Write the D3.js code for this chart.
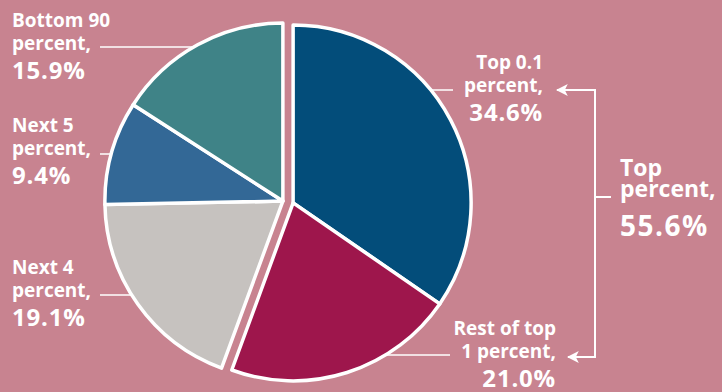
<!DOCTYPE html>
<html>
<head>
<meta charset="utf-8">
<script src="https://cdn.jsdelivr.net/npm/d3@7"></script>
<style>
  body { margin: 0; background: #c88390; }
  svg { display: block; }
  text { font-family: "Open Sans", sans-serif; font-weight: 700; fill: #fff; }
</style>
</head>
<body>
<svg width="722" height="392"></svg>
<script>
// shares of income, percent
var categories = ["Top 0.1 percent", "Rest of top 1 percent", "Next 4 percent", "Next 5 percent", "Bottom 90 percent"];
var shares = [34.6, 21.0, 19.1, 9.4, 15.9];
var lineOne = ["Top 0.1", "Rest of top", "Next 4", "Next 5", "Bottom 90"];
var lineTwo = ["percent,", "1 percent,", "percent,", "percent,", "percent,"];
var groupOf = [1, 1, 0, 0, 0]; // 1 = top 1 percent
var colors = ["#034d7a", "#9e164c", "#c6c2bf", "#336896", "#3f8387"];

var width = 722, height = 392;
var svg = d3.select("svg");
var fmt = d3.format(".1f");

var cx = 288, cy = 202, r = 178, explode = 5.2;

var data = categories.map(function(c, i) {
  return { name: c, value: shares[i], group: groupOf[i], color: colors[i], l1: lineOne[i], l2: lineTwo[i] };
});

var arcs = d3.pie().sort(null).value(function(d) { return d.value; })(data);

// each group (top 1 percent vs the rest) gets pulled apart along its own bisector
var groupAngles = [0, 1].map(function(g) {
  var a = arcs.filter(function(d) { return d.data.group === g; });
  var mid = (d3.min(a, function(d) { return d.startAngle; }) + d3.max(a, function(d) { return d.endAngle; })) / 2;
  return [explode * Math.sin(mid), -explode * Math.cos(mid)];
});

function centerOf(d) {
  var o = groupAngles[d.data.group];
  return [cx + o[0], cy + o[1]];
}

// label layout
var labelPos = {
  "Top 0.1 percent":       { x: 543, y: 69,  anchor: "end",   leadY: 90,  leadX: 453 },
  "Rest of top 1 percent": { x: 556, y: 335, anchor: "end",   leadY: 355, leadX: 450 },
  "Next 4 percent":        { x: 12,  y: 274, anchor: "start", leadY: 295, leadX: 100 },
  "Next 5 percent":        { x: 12,  y: 132, anchor: "start", leadY: 154, leadX: 100 },
  "Bottom 90 percent":     { x: 12,  y: 27,  anchor: "start", leadY: 47,  leadX: 100 }
};

// leader lines, drawn under the pie, ending just inside the slice
svg.append("g").selectAll("line")
  .data(arcs)
  .enter().append("line")
  .attr("x1", function(d) { return labelPos[d.data.name].leadX; })
  .attr("x2", function(d) {
    var c = centerOf(d), p = labelPos[d.data.name];
    var dx = Math.sqrt(r * r - Math.pow(p.leadY - c[1], 2));
    return p.anchor === "end" ? c[0] + dx - 8 : c[0] - dx + 8;
  })
  .attr("y1", function(d) { return labelPos[d.data.name].leadY; })
  .attr("y2", function(d) { return labelPos[d.data.name].leadY; })
  .attr("stroke", "#fff")
  .attr("stroke-width", 1.5);

var arc = d3.arc().innerRadius(0).outerRadius(r);

svg.append("g").selectAll("path")
  .data(arcs)
  .enter().append("path")
  .attr("transform", function(d) { return "translate(" + centerOf(d) + ")"; })
  .attr("d", arc)
  .attr("fill", function(d) { return d.data.color; })
  .attr("stroke", "#fff")
  .attr("stroke-width", 3.5)
  .attr("stroke-linejoin", "round");

var labels = svg.append("g").selectAll("text")
  .data(arcs)
  .enter().append("text")
  .attr("text-anchor", function(d) { return labelPos[d.data.name].anchor; });

labels.append("tspan")
  .attr("x", function(d) { return labelPos[d.data.name].x; })
  .attr("y", function(d) { return labelPos[d.data.name].y; })
  .attr("font-size", 19)
  .text(function(d) { return d.data.l1; });
labels.append("tspan")
  .attr("x", function(d) { return labelPos[d.data.name].x; })
  .attr("y", function(d) { return labelPos[d.data.name].y + 23; })
  .attr("font-size", 19)
  .text(function(d) { return d.data.l2; });
labels.append("tspan")
  .attr("x", function(d) { return labelPos[d.data.name].x; })
  .attr("y", function(d) { return labelPos[d.data.name].y + 52; })
  .attr("font-size", 24)
  .attr("letter-spacing", 0.8)
  .text(function(d) { return fmt(d.data.value) + "%"; });

// bracket joining the two top slices
var topTotal = d3.sum(data.filter(function(d) { return d.group === 1; }), function(d) { return d.value; });
var bx = 595, bTop = 90, bBot = 357, bMid = 197;

svg.append("defs").append("marker")
  .attr("id", "arrow")
  .attr("viewBox", "0 0 10 10")
  .attr("refX", 9).attr("refY", 5)
  .attr("markerWidth", 6).attr("markerHeight", 6)
  .attr("markerUnits", "strokeWidth")
  .attr("orient", "auto")
  .append("path")
  .attr("d", "M0,0 L10,5 L0,10 L2.5,5 Z")
  .attr("fill", "#fff");

var bracket = svg.append("g")
  .attr("fill", "none")
  .attr("stroke", "#fff")
  .attr("stroke-width", 2);

bracket.append("path")
  .attr("d", "M" + bx + "," + bMid + " L" + bx + "," + bTop + " L557," + bTop)
  .attr("marker-end", "url(#arrow)");
bracket.append("path")
  .attr("d", "M" + bx + "," + bMid + " L" + bx + "," + bBot + " L568," + bBot)
  .attr("marker-end", "url(#arrow)");
bracket.append("line")
  .attr("x1", bx).attr("x2", 611)
  .attr("y1", bMid).attr("y2", bMid);

var groupLabel = svg.append("text");
groupLabel.append("tspan").attr("x", 620).attr("y", 176).attr("font-size", 23).text("Top");
groupLabel.append("tspan").attr("x", 620).attr("y", 197).attr("font-size", 23).text("percent,");
groupLabel.append("tspan").attr("x", 620).attr("y", 236).attr("font-size", 28)
  .attr("letter-spacing", 1.5)
  .text(fmt(topTotal) + "%");
</script>
</body>
</html>
